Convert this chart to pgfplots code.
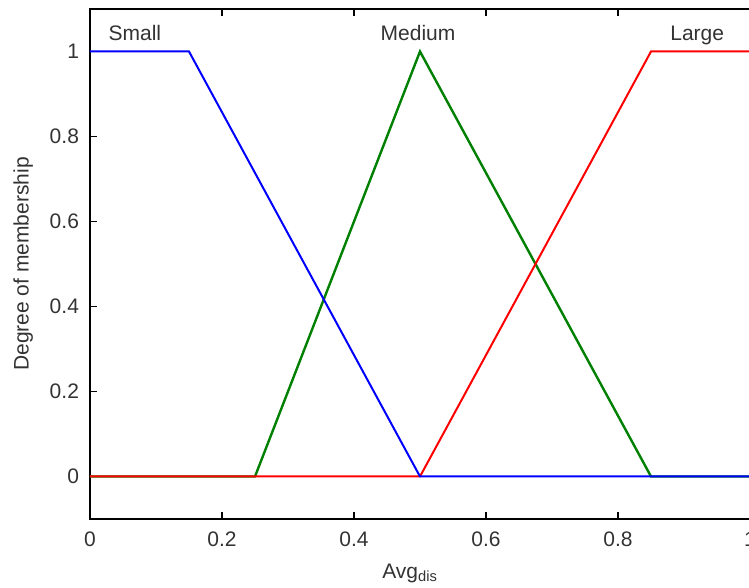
\documentclass[border=0pt]{standalone}
\usepackage{pgfplots}
\pgfplotsset{compat=1.18}
\usepackage{fontspec}
\setmainfont{Liberation Sans}
\definecolor{mblue}{rgb}{0,0,1}
\definecolor{mgreen}{rgb}{0,0.5,0}
\definecolor{mred}{rgb}{1,0,0}
\begin{document}
\begin{tikzpicture}
\begin{axis}[
    name=mf,
    scale only axis,
    width=330pt, height=255pt,
    xmin=0, xmax=1, ymin=-0.1, ymax=1.1,
    xtick={0,0.2,0.4,0.6,0.8,1},
    ytick={0,0.2,0.4,0.6,0.8,1},
    xticklabels={0,0.2,0.4,0.6,0.8,1},
    yticklabels={0,0.2,0.4,0.6,0.8,1},
    ytick pos=left,
    tick align=inside,
    major tick length=3.5pt,
    tick style={black, line width=0.6pt},
    axis line style={line width=0.6pt},
    tick label style={font=\fontsize{10.5}{12}\selectfont, text=black!80},
    label style={font=\fontsize{10.5}{12}\selectfont, text=black!80},
    xticklabel style={yshift=-3pt},
    yticklabel style={xshift=-2pt},
    xlabel={Avg$_{\mathrm{dis}}$},
    ylabel={Degree of membership},
    xlabel style={at={(axis description cs:0.485,0)}, anchor=north, yshift=-19pt},
    ylabel style={yshift=1.5pt},
    /pgf/number format/assume math mode=true,
    clip=false,
]
\addplot[mgreen, line width=1.2pt] coordinates {(0,0) (0.25,0) (0.5,1) (0.85,0) (1,0)};
\addplot[mred, line width=1pt] coordinates {(0,0) (0.5,0) (0.85,1) (1,1)};
\addplot[mblue, line width=1pt] coordinates {(0,1) (0.15,1) (0.5,0) (1,0)};
\node[anchor=base, font=\fontsize{10.5}{12}\selectfont, text=black!80] at (axis cs:0.068,1.026) {Small};
\node[anchor=base, font=\fontsize{10.5}{12}\selectfont, text=black!80] at (axis cs:0.497,1.026) {Medium};
\node[anchor=base, font=\fontsize{10.5}{12}\selectfont, text=black!80] at (axis cs:0.92,1.026) {Large};
\end{axis}
\pgfresetboundingbox
\path[use as bounding box] ([xshift=-45pt,yshift=-34.5pt]mf.south west) rectangle ([xshift=-0.5pt,yshift=4.5pt]mf.north east);
\end{tikzpicture}
\end{document}
